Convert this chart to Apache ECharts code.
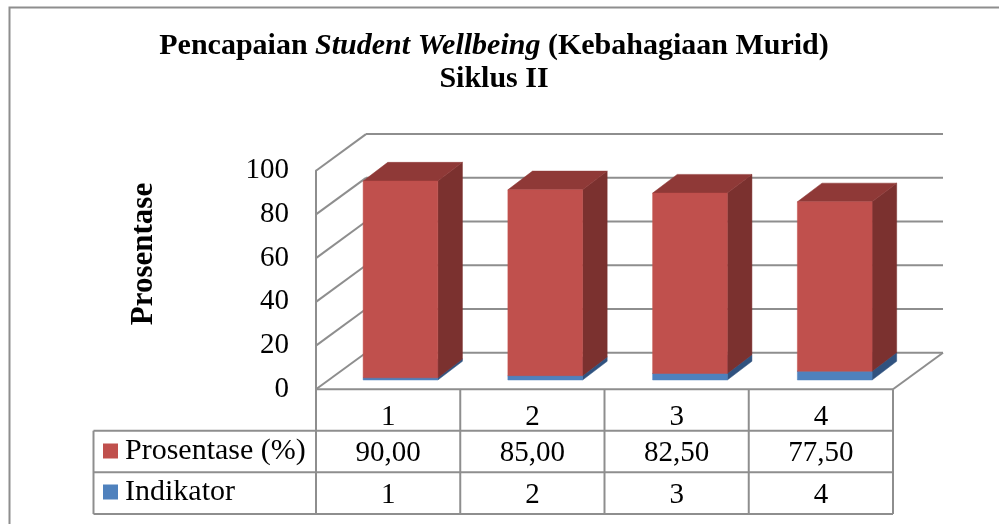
<!DOCTYPE html>
<html><head><meta charset="utf-8">
<style>html,body{margin:0;padding:0;background:#fff}#c{width:999px;height:524px}</style>
<script src="https://cdn.jsdelivr.net/npm/echarts@6/dist/echarts.min.js"></script>
</head><body><div id="c"></div>
<script>
const categories = ['1', '2', '3', '4'];
const prosentase = [90, 85, 82.5, 77.5];
const indikator = [1, 2, 3, 4];
const prosentaseLabels = ['90,00', '85,00', '82,50', '77,50'];
const indikatorLabels = ['1', '2', '3', '4'];
const yTicks = [0, 20, 40, 60, 80, 100];

const FONT = '"Liberation Serif", serif';
const GRAY = '#8e8e8e';
const WALL = { dx: 50, dy: -36.6 };
const BAR = { dx: 24.6, dy: -18.7, ratio: 0.516 };
const TABLE = { left: 93.5, rows: [430.7, 472.2, 514], cells: [453, 495.5] };

function line(x1, y1, x2, y2, w) {
  return { type: 'line', shape: { x1, y1, x2, y2 }, style: { stroke: GRAY, lineWidth: w || 2 } };
}
function poly(points, fill) {
  return { type: 'polygon', shape: { points }, style: { fill, stroke: fill, lineWidth: 0.5 } };
}

function renderWall(params, api) {
  const c = params.coordSys, tick = api.value(0), y = api.coord([0, tick])[1];
  const out = [line(c.x, y, c.x + WALL.dx, y + WALL.dy), line(c.x + WALL.dx, y + WALL.dy, c.x + c.width + WALL.dx, y + WALL.dy)];
  if (tick === 0) {
    out.push(line(c.x + c.width, y, c.x + c.width + WALL.dx, y + WALL.dy));
  }
  return { type: 'group', children: out };
}

function renderTable(params, api) {
  const c = params.coordSys, bottom = c.y + c.height, last = TABLE.rows[2], band = c.width / categories.length;
  const out = [line(c.x, bottom, c.x + c.width, bottom)];
  for (let i = 0; i <= categories.length; i++) out.push(line(c.x + i * band, bottom, c.x + i * band, last));
  TABLE.rows.forEach(y => out.push(line(TABLE.left, y, c.x + c.width, y)));
  out.push(line(TABLE.left, TABLE.rows[0], TABLE.left, last));
  return { type: 'group', children: out };
}

function renderCell(params, api) {
  const x = api.coord([api.value(0), 0])[0];
  return { type: 'text', style: { text: params.seriesName === 'row1' ? prosentaseLabels[params.dataIndex] : indikatorLabels[params.dataIndex],
    x, y: TABLE.cells[params.seriesName === 'row1' ? 0 : 1], align: 'center', verticalAlign: 'middle', font: '29px ' + FONT, fill: '#000' } };
}

function makeBars(front, side, top) {
  return function (params, api) {
    const idx = api.value(0), lo = api.coord([idx, api.value(1)]), hi = api.coord([idx, api.value(2)]);
    const w = api.size([1, 0])[0] * BAR.ratio, l = lo[0] - w / 2, r = lo[0] + w / 2;
    const d = BAR.dx, e = BAR.dy;
    return { type: 'group', children: [
      poly([[r, lo[1]], [r + d, lo[1] + e], [r + d, hi[1] + e], [r, hi[1]]], side),
      poly([[l, hi[1]], [r, hi[1]], [r + d, hi[1] + e], [l + d, hi[1] + e]], top),
      poly([[l, lo[1]], [r, lo[1]], [r, hi[1]], [l, hi[1]]], front)
    ] };
  };
}

const chart = echarts.init(document.getElementById('c'), null, { renderer: 'canvas' });
chart.setOption({
  animation: false,
  backgroundColor: '#fff',
  title: {
    left: 489, top: 24, textAlign: 'center',
    text: '{b|Pencapaian }{i|Student Wellbeing}{b| (Kebahagiaan Murid)}\n{b|Siklus II}',
    textStyle: { rich: {
      b: { fontFamily: FONT, fontSize: 30, fontWeight: 'bold', lineHeight: 33.5, color: '#000' },
      i: { fontFamily: FONT, fontSize: 30, fontWeight: 'bold', fontStyle: 'italic', lineHeight: 33.5, color: '#000' }
    } }
  },
  legend: {
    data: ['Prosentase (%)', 'Indikator'], orient: 'vertical', left: 103, top: 436, padding: 0, height: 88,
    itemWidth: 15, itemHeight: 15, itemGap: 11, icon: 'rect', selectedMode: false,
    textStyle: { fontFamily: FONT, fontSize: 30, color: '#000', padding: [3, 0, 0, 2] }
  },
  graphic: [{ type: 'polyline', shape: { points: [[9.5, 524], [9.5, 7.5], [999, 7.5]] }, style: { stroke: GRAY, lineWidth: 2, fill: 'none' } }],
  grid: [
    { left: 316, width: 577, top: 170.7, height: 218.6 },
    { left: 328.1, width: 579, top: 161.4, height: 218.6 }
  ],
  xAxis: [
    { type: 'category', gridIndex: 0, data: categories, axisLine: { show: false }, axisTick: { show: false },
      axisLabel: { fontFamily: FONT, fontSize: 29, color: '#000', margin: 14 } },
    { type: 'category', gridIndex: 1, data: categories, show: false }
  ],
  yAxis: [
    { type: 'value', gridIndex: 0, min: 0, max: 100, interval: 20,
      name: 'Prosentase', nameLocation: 'middle', nameGap: 157, nameRotate: 90,
      nameTextStyle: { fontFamily: FONT, fontSize: 31, fontWeight: 'bold', color: '#000', padding: [0, 0, 0, 52] },
      axisLine: { show: true, lineStyle: { color: GRAY, width: 2 } }, axisTick: { show: false }, splitLine: { show: false },
      axisLabel: { fontFamily: FONT, fontSize: 29, color: '#000', margin: 27, padding: [4, 0, 0, 0] } },
    { type: 'value', gridIndex: 1, min: 0, max: 100, interval: 20, show: false, splitLine: { show: false } }
  ],
  series: [
    { name: 'wall', type: 'custom', xAxisIndex: 0, yAxisIndex: 0, z: 1, silent: true, renderItem: renderWall, data: yTicks.map(t => [t]), encode: { x: -1, y: -1 } },
    { name: 'table', type: 'custom', xAxisIndex: 0, yAxisIndex: 0, z: 1, silent: true, renderItem: renderTable, data: [[0]] },
    { name: 'row1', type: 'custom', xAxisIndex: 0, yAxisIndex: 0, z: 3, silent: true, renderItem: renderCell, data: categories.map((c, i) => [i]) },
    { name: 'row2', type: 'custom', xAxisIndex: 0, yAxisIndex: 0, z: 3, silent: true, renderItem: renderCell, data: categories.map((c, i) => [i]) },
    { name: 'Indikator', type: 'custom', xAxisIndex: 1, yAxisIndex: 1, z: 2, renderItem: makeBars('#4f81bd', '#30527f', '#3a6496'),
      itemStyle: { color: '#4f81bd' }, data: indikator.map((v, i) => [i, 0, v]), encode: { x: 0, y: 2 } },
    { name: 'Prosentase (%)', type: 'custom', xAxisIndex: 1, yAxisIndex: 1, z: 2, renderItem: makeBars('#c0504d', '#7b312f', '#8f3937'),
      itemStyle: { color: '#c0504d' }, data: prosentase.map((v, i) => [i, indikator[i], indikator[i] + v]), encode: { x: 0, y: 2 } }
  ]
});
</script></body></html>
